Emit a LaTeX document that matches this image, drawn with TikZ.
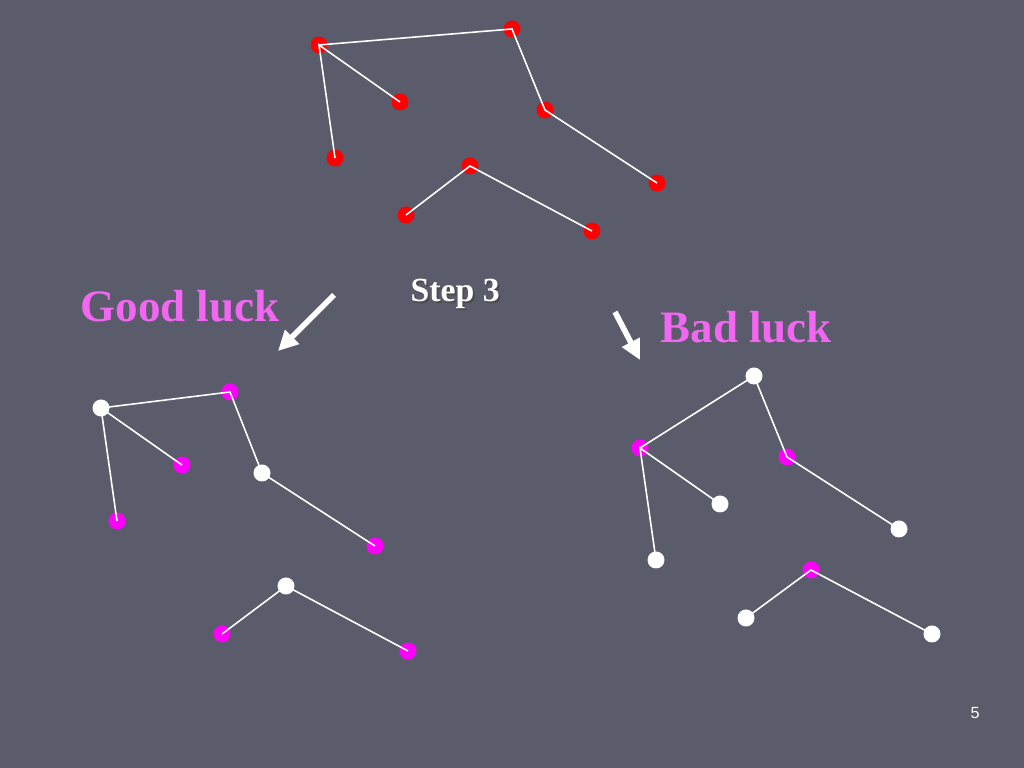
\documentclass[tikz,border=0pt]{standalone}
\usepackage{fontspec}
\setmainfont{Liberation Serif}
\setsansfont{Liberation Sans}
\usetikzlibrary{arrows.meta}
\definecolor{slidebg}{HTML}{5A5C6B}
\definecolor{luckpink}{HTML}{F266F2}
\definecolor{dotmag}{HTML}{FF00FF}
\tikzset{
	dot/.style={circle,inner sep=0,outer sep=0,minimum size=0.17cm},
	reddot/.style={dot,fill=red},
	magdot/.style={dot,fill=dotmag},
	whitedot/.style={dot,fill=white},
	edge/.style={draw=white,line width=0.45pt},
	bigarrow/.style={draw=white,line width=1.6pt,-{Triangle[length=0.2cm,width=0.19cm]}},
	lucktext/.style={anchor=base west,inner sep=0,text=luckpink,font=\fontsize{12.8}{14}\selectfont\bfseries},
}
\begin{document}
\begin{tikzpicture}
	\fill[slidebg] (0,0) rectangle (10.24,7.68);
	\useasboundingbox (0,0) rectangle (10.24,7.68);
	% step 3 tree
	\node[reddot] (t1) at (3.19,7.23) {};
	\node[reddot] (t2) at (5.12,7.39) {};
	\node[reddot] (t3) at (4.00,6.66) {};
	\node[reddot] (t4) at (3.35,6.10) {};
	\node[reddot] (t5) at (5.45,6.58) {};
	\node[reddot] (t6) at (6.57,5.85) {};
	\node[reddot] (t7) at (4.70,6.02) {};
	\node[reddot] (t8) at (4.06,5.53) {};
	\node[reddot] (t9) at (5.92,5.37) {};
	\draw[edge] (t1.center) -- (t2.center) -- (t5.center) -- (t6.center);
	\draw[edge] (t3.center) -- (t1.center) -- (t4.center);
	\draw[edge] (t8.center) -- (t7.center) -- (t9.center);
	% good luck
	\node[whitedot] (g1) at (1.01,3.60) {};
	\node[magdot] (g2) at (2.30,3.76) {};
	\node[magdot] (g3) at (1.82,3.03) {};
	\node[magdot] (g4) at (1.17,2.47) {};
	\node[whitedot] (g5) at (2.62,2.95) {};
	\node[magdot] (g6) at (3.75,2.22) {};
	\node[whitedot] (g7) at (2.86,1.82) {};
	\node[magdot] (g8) at (2.22,1.34) {};
	\node[magdot] (g9) at (4.08,1.17) {};
	\draw[edge] (g1.center) -- (g2.center) -- (g5.center) -- (g6.center);
	\draw[edge] (g3.center) -- (g1.center) -- (g4.center);
	\draw[edge] (g8.center) -- (g7.center) -- (g9.center);
	% bad luck
	\node[magdot] (b1) at (6.40,3.20) {};
	\node[whitedot] (b2) at (7.54,3.92) {};
	\node[whitedot] (b3) at (7.20,2.64) {};
	\node[whitedot] (b4) at (6.56,2.08) {};
	\node[magdot] (b5) at (7.87,3.11) {};
	\node[whitedot] (b6) at (8.99,2.39) {};
	\node[magdot] (b7) at (8.11,1.98) {};
	\node[whitedot] (b8) at (7.46,1.50) {};
	\node[whitedot] (b9) at (9.32,1.34) {};
	\draw[edge] (b1.center) -- (b2.center) -- (b5.center) -- (b6.center);
	\draw[edge] (b3.center) -- (b1.center) -- (b4.center);
	\draw[edge] (b8.center) -- (b7.center) -- (b9.center);
	% labels
	\node[lucktext] (good) at (0.80,4.46) {Good luck};
	\node[lucktext] (bad) at (6.60,4.25) {Bad luck};
	\node[anchor=base west,inner sep=0,text=black!70,font=\fontsize{9.6}{11}\selectfont\bfseries] (stepshadow) at (4.12,4.64) {Step 3};
	\node[anchor=base west,inner sep=0,text=white,font=\fontsize{9.6}{11}\selectfont\bfseries] (step) at (4.10,4.66) {Step 3};
	\node[text=white,inner sep=0,font=\sffamily\fontsize{4.6}{5}\selectfont] (page) at (9.75,0.55) {5};
	% arrows
	\coordinate (la) at (3.34,4.73);
	\coordinate (lb) at (2.78,4.17);
	\coordinate (ra) at (6.15,4.56);
	\coordinate (rb) at (6.40,4.08);
	\draw[bigarrow] (la) -- (lb);
	\draw[bigarrow] (ra) -- (rb);
\end{tikzpicture}
\end{document}
